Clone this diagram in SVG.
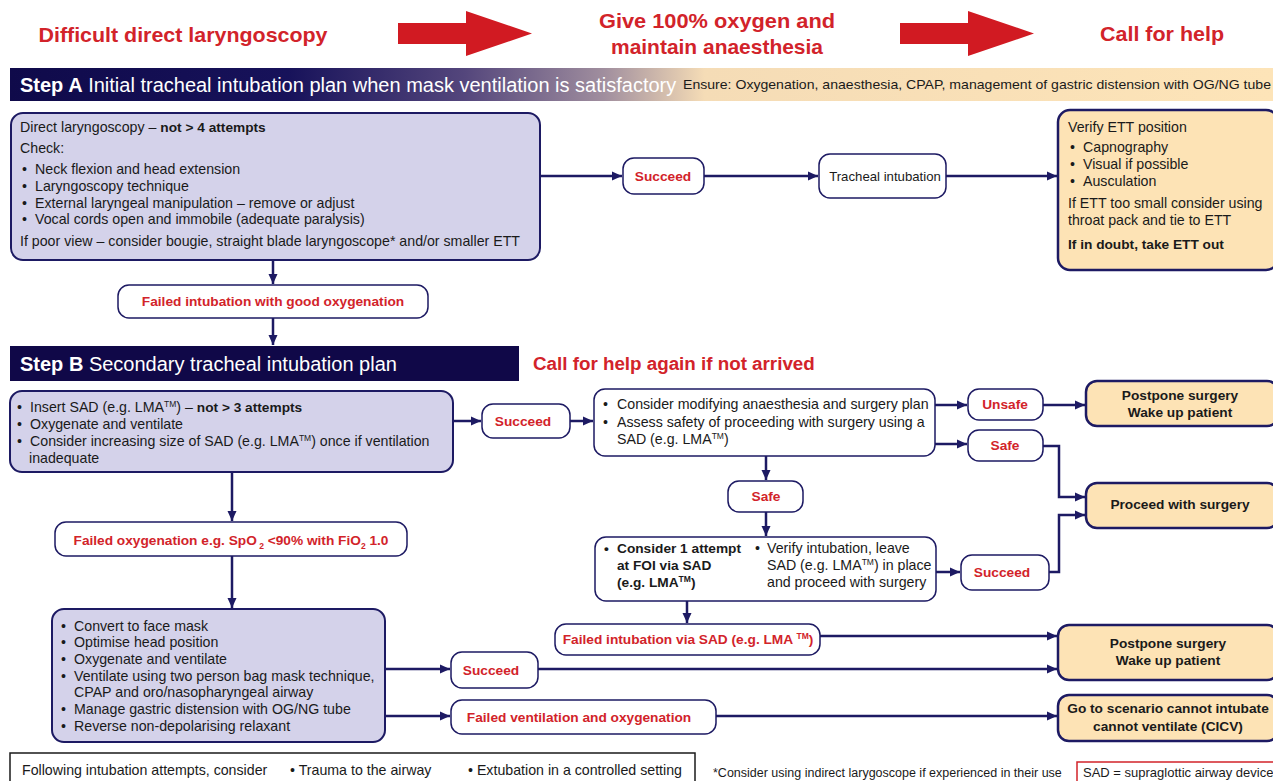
<svg xmlns="http://www.w3.org/2000/svg" width="1273" height="781" viewBox="0 0 1273 781">
<defs>
<marker id="ah" viewBox="0 0 10 10" refX="10" refY="5" markerWidth="10" markerHeight="10" markerUnits="userSpaceOnUse" orient="auto">
<path d="M0,0.5 L10,5 L0,9.5 z" fill="#1d1a63"/>
</marker>
<linearGradient id="gA" x1="10" y1="0" x2="1273" y2="0" gradientUnits="userSpaceOnUse">
<stop offset="0" stop-color="#0f0a4a"/>
<stop offset="0.22" stop-color="#17125a"/>
<stop offset="0.36" stop-color="#54467c"/>
<stop offset="0.47" stop-color="#a08e9e"/>
<stop offset="0.55" stop-color="#f5dcb6"/>
<stop offset="1" stop-color="#fde4b8"/>
</linearGradient>
<style>
text{font-family:"Liberation Sans",Arial,sans-serif;font-size:14.2px;fill:#1a1a1a}
.b{font-weight:bold;font-size:13.7px}
.r{fill:#d2232a;font-weight:bold;font-size:13.7px}
.c{text-anchor:middle}
.lav{fill:#d4d2ea;stroke:#1d1a63;stroke-width:2}
.wht{fill:#ffffff;stroke:#1d1a63;stroke-width:1.5}
.bei{fill:#fde3b5;stroke:#1d1a63;stroke-width:2.5}
.con{fill:none;stroke:#1d1a63;stroke-width:2.5}
.big{font-size:21px}
.hd{fill:#ffffff;font-size:20px}
.sup{font-size:8.5px}
</style>
</defs>

<g id="header">
<text x="183" y="42" class="r big c" textLength="289" lengthAdjust="spacingAndGlyphs">Difficult direct laryngoscopy</text>
<path d="M398,23 H466 V11 L532,33.5 L466,56 V44 H398 z" fill="#d11a22"/>
<text x="717" y="28" class="r big c" textLength="236" lengthAdjust="spacingAndGlyphs">Give 100% oxygen and</text>
<text x="717" y="54" class="r big c" textLength="212" lengthAdjust="spacingAndGlyphs">maintain anaesthesia</text>
<path d="M900,23 H968 V11 L1034,33.5 L968,56 V44 H900 z" fill="#d11a22"/>
<text x="1162" y="41" class="r big c" textLength="124" lengthAdjust="spacingAndGlyphs">Call for help</text>
</g>

<g id="stepA">
<rect x="10" y="68" width="1263" height="33" fill="url(#gA)"/>
<text x="20" y="92" class="hd"><tspan style="font-weight:bold;fill:#fff">Step A</tspan> Initial tracheal intubation plan when mask ventilation is satisfactory</text>
<text x="683" y="89" textLength="588" lengthAdjust="spacingAndGlyphs" style="font-size:13.5px">Ensure: Oxygenation, anaesthesia, CPAP, management of gastric distension with OG/NG tube</text>
</g>

<g id="connectors">
<line x1="540" y1="176" x2="622" y2="176" class="con" marker-end="url(#ah)"/>
<line x1="704" y1="176" x2="818" y2="176" class="con" marker-end="url(#ah)"/>
<line x1="946" y1="176" x2="1057" y2="176" class="con" marker-end="url(#ah)"/>
<line x1="273" y1="260" x2="273" y2="284" class="con" marker-end="url(#ah)"/>
<line x1="273" y1="318" x2="273" y2="345" class="con" marker-end="url(#ah)"/>
<line x1="453" y1="421" x2="481" y2="421" class="con" marker-end="url(#ah)"/>
<line x1="570" y1="421" x2="593" y2="421" class="con" marker-end="url(#ah)"/>
<line x1="935" y1="405" x2="967" y2="405" class="con" marker-end="url(#ah)"/>
<line x1="1043" y1="405" x2="1085" y2="405" class="con" marker-end="url(#ah)"/>
<line x1="935" y1="444" x2="967" y2="444" class="con" marker-end="url(#ah)"/>
<polyline points="1043,446 1059,446 1059,497 1085,497" class="con" marker-end="url(#ah)"/>
<line x1="766" y1="456" x2="766" y2="480" class="con" marker-end="url(#ah)"/>
<line x1="766" y1="512" x2="766" y2="536" class="con" marker-end="url(#ah)"/>
<line x1="936" y1="572" x2="960" y2="572" class="con" marker-end="url(#ah)"/>
<polyline points="1049,572 1059,572 1059,515 1085,515" class="con" marker-end="url(#ah)"/>
<line x1="687" y1="601" x2="687" y2="623" class="con" marker-end="url(#ah)"/>
<line x1="820" y1="636" x2="1057" y2="636" class="con" marker-end="url(#ah)"/>
<line x1="232" y1="472" x2="232" y2="521" class="con" marker-end="url(#ah)"/>
<line x1="232" y1="556" x2="232" y2="608" class="con" marker-end="url(#ah)"/>
<line x1="385" y1="669" x2="450" y2="669" class="con" marker-end="url(#ah)"/>
<line x1="538" y1="669" x2="1057" y2="669" class="con" marker-end="url(#ah)"/>
<line x1="385" y1="716" x2="450" y2="716" class="con" marker-end="url(#ah)"/>
<line x1="716" y1="716" x2="1057" y2="716" class="con" marker-end="url(#ah)"/>
</g>

<g id="a-laryngoscopy">
<rect x="11" y="113" width="529" height="147" rx="12" class="lav"/>
<text x="20" y="132">Direct laryngoscopy – <tspan class="b">not &gt; 4 attempts</tspan></text>
<text x="20" y="153">Check:</text>
<text x="22" y="174">•</text><text x="35" y="174">Neck flexion and head extension</text>
<text x="22" y="191">•</text><text x="35" y="191">Laryngoscopy technique</text>
<text x="22" y="208">•</text><text x="35" y="208">External laryngeal manipulation – remove or adjust</text>
<text x="22" y="224">•</text><text x="35" y="224">Vocal cords open and immobile (adequate paralysis)</text>
<text x="20" y="246">If poor view – consider bougie, straight blade laryngoscope* and/or smaller ETT</text>
</g>

<g id="a-succeed">
<rect x="623" y="158" width="81" height="36" rx="11" class="wht"/>
<text x="663" y="181" class="r c">Succeed</text>
</g>

<g id="a-tracheal">
<rect x="819" y="154" width="127" height="44" rx="11" class="wht"/>
<text x="885" y="181" class="c" style="font-size:13.2px">Tracheal intubation</text>
</g>

<g id="a-verify">
<rect x="1058" y="110" width="220" height="160" rx="12" class="bei"/>
<text x="1068" y="132">Verify ETT position</text>
<text x="1070" y="152">•</text><text x="1083" y="152">Capnography</text>
<text x="1070" y="169">•</text><text x="1083" y="169">Visual if possible</text>
<text x="1070" y="186">•</text><text x="1083" y="186">Ausculation</text>
<text x="1068" y="208">If ETT too small consider using</text>
<text x="1068" y="225">throat pack and tie to ETT</text>
<text x="1068" y="249" class="b">If in doubt, take ETT out</text>
</g>

<g id="a-failed">
<rect x="118" y="285" width="310" height="33" rx="11" class="wht"/>
<text x="273" y="306" class="r c">Failed intubation with good oxygenation</text>
</g>

<g id="stepB">
<rect x="10" y="346" width="509" height="35" fill="#100848"/>
<text x="20" y="371" class="hd"><tspan style="font-weight:bold;fill:#fff">Step B</tspan>  Secondary tracheal intubation plan</text>
<text x="533" y="370" class="r" style="font-size:18.8px">Call for help again if not arrived</text>
</g>

<g id="b-sad">
<rect x="10" y="391" width="443" height="81" rx="12" class="lav"/>
<text x="17" y="412">•</text><text x="30" y="412">Insert SAD (e.g. LMA<tspan class="sup" dy="-5">TM</tspan><tspan dy="5">) – </tspan><tspan class="b">not &gt; 3 attempts</tspan></text>
<text x="17" y="429">•</text><text x="30" y="429">Oxygenate and ventilate</text>
<text x="17" y="446">•</text><text x="30" y="446">Consider increasing size of SAD (e.g. LMA<tspan class="sup" dy="-5">TM</tspan><tspan dy="5">) once if ventilation</tspan></text>
<text x="29" y="463">inadequate</text>
</g>

<g id="b-succeed1">
<rect x="482" y="404" width="88" height="34" rx="11" class="wht"/>
<text x="523" y="426" class="r c">Succeed</text>
</g>

<g id="b-assess">
<rect x="594" y="389" width="341" height="67" rx="11" class="wht"/>
<text x="603" y="409">•</text><text x="617" y="409">Consider modifying anaesthesia and surgery plan</text>
<text x="603" y="427">•</text><text x="617" y="427">Assess safety of proceeding with surgery using a</text>
<text x="617" y="444">SAD (e.g. LMA<tspan class="sup" dy="-5">TM</tspan><tspan dy="5">)</tspan></text>
</g>

<g id="b-unsafe">
<rect x="968" y="389" width="75" height="31" rx="11" class="wht"/>
<text x="1005" y="409" class="r c">Unsafe</text>
</g>

<g id="b-postpone1">
<rect x="1086" y="381" width="192" height="45" rx="11" class="bei"/>
<text x="1180" y="400" class="b c">Postpone surgery</text>
<text x="1180" y="417" class="b c">Wake up patient</text>
</g>

<g id="b-safe1">
<rect x="968" y="430" width="75" height="31" rx="11" class="wht"/>
<text x="1005" y="450" class="r c">Safe</text>
</g>

<g id="b-proceed">
<rect x="1086" y="483" width="192" height="45" rx="11" class="bei"/>
<text x="1180" y="509" class="b c">Proceed with surgery</text>
</g>

<g id="b-safe2">
<rect x="728" y="481" width="75" height="31" rx="11" class="wht"/>
<text x="766" y="501" class="r c">Safe</text>
</g>

<g id="b-foi">
<rect x="595" y="537" width="341" height="64" rx="11" class="wht"/>
<text x="604" y="553" class="b">•</text><text x="617" y="553" class="b">Consider 1 attempt</text>
<text x="617" y="570" class="b">at FOI via SAD</text>
<text x="617" y="587" class="b">(e.g. LMA<tspan class="sup" dy="-5">TM</tspan><tspan dy="5">)</tspan></text>
<text x="755" y="553">•</text><text x="767" y="553">Verify intubation, leave</text>
<text x="767" y="570">SAD (e.g. LMA<tspan class="sup" dy="-5">TM</tspan><tspan dy="5">) in place</tspan></text>
<text x="767" y="587">and proceed with surgery</text>
</g>

<g id="b-succeed2">
<rect x="961" y="555" width="88" height="35" rx="11" class="wht"/>
<text x="1002" y="577" class="r c">Succeed</text>
</g>

<g id="b-failed-sad">
<rect x="555" y="624" width="265" height="31" rx="11" class="wht"/>
<text x="688" y="644" class="r c">Failed intubation via SAD (e.g. LMA <tspan class="sup" dy="-5" style="fill:#d2232a">TM</tspan><tspan dy="5">)</tspan></text>
</g>

<g id="b-postpone2">
<rect x="1058" y="625" width="220" height="55" rx="11" class="bei"/>
<text x="1168" y="648" class="b c">Postpone surgery</text>
<text x="1168" y="665" class="b c">Wake up patient</text>
</g>

<g id="b-failed-oxy">
<rect x="55" y="522" width="352" height="34" rx="11" class="wht"/>
<text x="231" y="545" class="r c">Failed oxygenation e.g. SpO<tspan class="sup" dy="4" style="fill:#d2232a"> 2</tspan><tspan dy="-4"> &lt;90% with FiO</tspan><tspan class="sup" dy="4" style="fill:#d2232a">2</tspan><tspan dy="-4"> 1.0</tspan></text>
</g>

<g id="b-facemask">
<rect x="52" y="609" width="333" height="133" rx="12" class="lav"/>
<text x="61" y="631">•</text><text x="74" y="631">Convert to face mask</text>
<text x="61" y="647">•</text><text x="74" y="647">Optimise head position</text>
<text x="61" y="664">•</text><text x="74" y="664">Oxygenate and ventilate</text>
<text x="61" y="681">•</text><text x="74" y="681">Ventilate using two person bag mask technique,</text>
<text x="74" y="697">CPAP and oro/nasopharyngeal airway</text>
<text x="61" y="714">•</text><text x="74" y="714">Manage gastric distension with OG/NG tube</text>
<text x="61" y="731">•</text><text x="74" y="731">Reverse non-depolarising relaxant</text>
</g>

<g id="b-succeed3">
<rect x="451" y="652" width="87" height="36" rx="11" class="wht"/>
<text x="491" y="675" class="r c">Succeed</text>
</g>

<g id="b-failed-vent">
<rect x="451" y="700" width="265" height="34" rx="11" class="wht"/>
<text x="579" y="722" class="r c">Failed ventilation and oxygenation</text>
</g>

<g id="b-cicv">
<rect x="1058" y="695" width="220" height="46" rx="11" class="bei"/>
<text x="1168" y="713" class="b c">Go to scenario cannot intubate</text>
<text x="1168" y="731" class="b c">cannot ventilate (CICV)</text>
</g>

<g id="footer">
<rect x="10" y="753" width="685" height="32" fill="#fff" stroke="#1a1a1a" stroke-width="1.5"/>
<text x="22" y="775">Following intubation attempts, consider</text>
<text x="290" y="775">•  Trauma to the airway</text>
<text x="468" y="775">•  Extubation in a controlled setting</text>
<text x="713" y="777" style="font-size:12.5px">*Consider using indirect larygoscope if experienced in their use</text>
<rect x="1077" y="762" width="200" height="25" fill="#fff" stroke="#d2232a" stroke-width="1.5"/>
<text x="1083" y="777" style="font-size:13px">SAD = supraglottic airway device</text>
</g>
</svg>
